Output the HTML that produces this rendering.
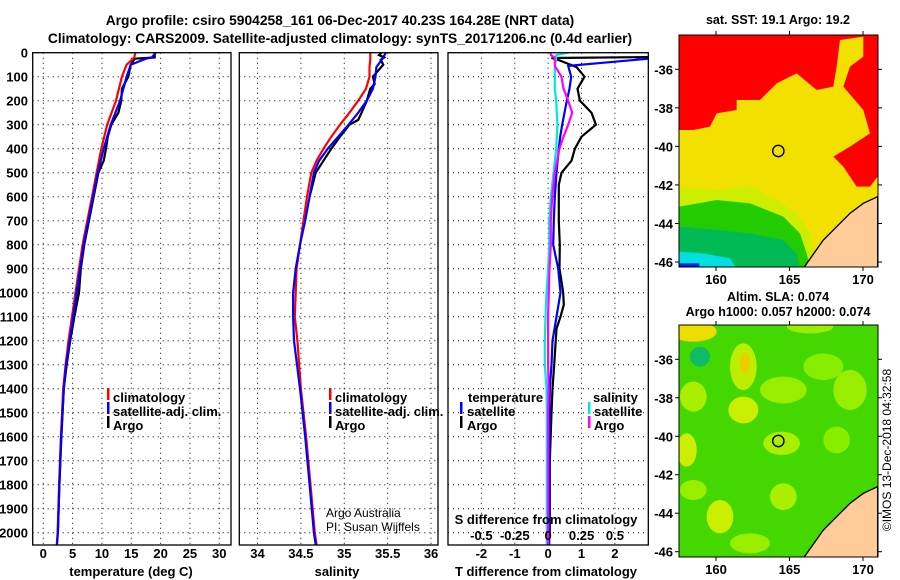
<!DOCTYPE html>
<html><head><meta charset="utf-8"><style>
body{margin:0;background:#fff;}
svg{display:block;font-family:"Liberation Sans",sans-serif;font-weight:bold;}
</style></head><body>
<svg id="fig" width="900" height="580" viewBox="0 0 900 580">
<rect width="900" height="580" fill="#fff"/>
<text x="340" y="25" font-size="13.8" text-anchor="middle">Argo profile: csiro 5904258_161 06-Dec-2017 40.23S 164.28E (NRT data)</text>
<text x="340" y="43" font-size="13.8" text-anchor="middle">Climatology: CARS2009. Satellite-adjusted climatology: synTS_20171206.nc (0.4d earlier)</text>
<g id="panels"></g>

<!-- SST map -->
<text x="778" y="24" font-size="12.5" text-anchor="middle">sat. SST: 19.1 Argo: 19.2</text>
<g>
<clipPath id="c1"><rect x="679" y="35" width="199" height="232"/></clipPath>
<g clip-path="url(#c1)">
<rect x="679" y="35" width="199" height="232" fill="#ff0000"/>
<g transform="translate(650,0) scale(0.33333)">
<polygon fill="#f2e000" points="88,390 130,390 180,380 200,340 260,330 260,300 330,300 380,250 440,220 500,270 550,260 560,200 570,120 640,110 640,170 600,200 580,260 640,330 660,400 600,440 550,470 580,500 620,560 660,560 683,530 683,805 88,805"/>
<polygon fill="#ccee00" points="88,560 200,570 300,560 380,600 440,640 480,700 500,805 88,805"/>
<polygon fill="#22cc00" points="88,620 200,600 300,610 400,650 450,700 470,760 480,805 88,805"/>
<polygon fill="#00bb55" points="88,680 200,690 300,700 400,720 440,760 450,805 88,805"/>
<polygon fill="#00e0e0" points="88,755 160,760 240,775 260,805 88,805"/>
<rect x="88" y="790" width="60" height="15" fill="#0022ee"/>
<polygon fill="#ffcc99" stroke="#000" stroke-width="4" points="460,805 520,720 570,670 600,640 640,610 683,590 683,805"/>
<circle cx="385" cy="453" r="17" fill="none" stroke="#000" stroke-width="4"/>
</g></g>
<rect x="679" y="35" width="199" height="232" fill="none" stroke="#000" stroke-width="1"/>
</g>

<!-- SLA map -->
<text x="778" y="301" font-size="12.5" text-anchor="middle">Altim. SLA: 0.074</text>
<text x="778" y="316" font-size="12.5" text-anchor="middle">Argo h1000: 0.057 h2000: 0.074</text>
<g>
<clipPath id="c2"><rect x="679" y="325" width="199" height="232"/></clipPath>
<g clip-path="url(#c2)">
<rect x="679" y="325" width="199" height="232" fill="#44d800"/>
<g transform="translate(650,290) scale(0.33333)">
<ellipse cx="130" cy="125" rx="70" ry="30" fill="#eedd00"/>
<ellipse cx="150" cy="200" rx="30" ry="30" fill="#11bb66"/>
<ellipse cx="280" cy="230" rx="40" ry="70" fill="#bbee00"/>
<ellipse cx="285" cy="220" rx="15" ry="30" fill="#eecc00"/>
<ellipse cx="130" cy="320" rx="40" ry="45" fill="#aaee00"/>
<ellipse cx="280" cy="360" rx="45" ry="40" fill="#ccee00"/>
<ellipse cx="400" cy="300" rx="70" ry="40" fill="#99ee00"/>
<ellipse cx="395" cy="460" rx="55" ry="35" fill="#aaee00"/>
<ellipse cx="110" cy="480" rx="30" ry="50" fill="#ccee00"/>
<ellipse cx="520" cy="230" rx="60" ry="40" fill="#88ee00"/>
<ellipse cx="600" cy="300" rx="50" ry="60" fill="#99ee00"/>
<ellipse cx="560" cy="450" rx="40" ry="40" fill="#88ee00"/>
<ellipse cx="210" cy="680" rx="40" ry="50" fill="#ccee00"/>
<ellipse cx="400" cy="620" rx="40" ry="40" fill="#aaee00"/>
<ellipse cx="130" cy="600" rx="40" ry="30" fill="#99ee00"/>
<ellipse cx="300" cy="760" rx="60" ry="30" fill="#99ee00"/>
<ellipse cx="480" cy="110" rx="70" ry="20" fill="#99ee00"/>
<ellipse cx="600" cy="700" rx="50" ry="40" fill="#88ee00"/>
<polygon fill="#ffcc99" stroke="#000" stroke-width="4" points="460,805 520,720 570,670 600,640 640,610 683,590 683,805"/>
<circle cx="385" cy="453" r="17" fill="none" stroke="#000" stroke-width="4"/>
</g></g>
<rect x="679" y="325" width="199" height="232" fill="none" stroke="#000" stroke-width="1"/>
</g>
<g id="mapaxes"></g>
<text transform="translate(891,450) rotate(-90)" font-size="12" font-weight="normal" text-anchor="middle">©IMOS 13-Dec-2018 04:32:58</text>
</svg>
<script>
// ---- data ----
const tDepth = [0,20,25,50,100,200,300,400,500,600,700,800,900,1000,1100,1200,1300,1400,1600,1800,2000,2050];
const tClim  = [15.7,15.5,15.3,14.2,13.4,12.4,10.9,9.9,9.1,8.3,7.5,6.7,6.1,5.5,4.9,4.3,3.8,3.4,3.0,2.7,2.45,2.3];
const tSat   = [19.2,18.5,17.5,14.9,14.2,13.1,11.5,10.3,9.3,8.5,7.7,6.9,6.3,5.7,5.1,4.5,3.9,3.5,3.05,2.75,2.5,2.35];
const argoTDepth = [0,20,25,50,100,150,200,250,300,350,400,450,500,600,700,800,900,1000,1100,1200,1300,1400,1600,1800,2000];
const argoT  = [19.0,19.0,15.6,14.9,14.5,13.4,13.3,12.8,11.6,11.0,10.7,10.3,9.4,8.6,7.8,7.0,6.4,6.1,5.3,4.6,4.0,3.5,3.1,2.75,2.5];
const sDepth = [0,30,60,100,150,200,250,300,350,400,450,500,600,700,800,900,1000,1100,1200,1400,1600,1800,2000,2050];
const sClim  = [35.30,35.30,35.29,35.29,35.25,35.16,35.06,34.95,34.85,34.76,34.68,34.62,34.57,34.53,34.49,34.45,34.44,34.43,34.46,34.50,34.56,34.61,34.66,34.68];
const sSat   = [35.48,35.43,35.37,35.36,35.33,35.26,35.16,35.05,34.93,34.81,34.71,34.65,34.60,34.55,34.49,34.44,34.41,34.41,34.42,34.49,34.55,34.60,34.65,34.67];
const argoSDepth = [0,10,20,30,50,100,130,150,200,250,280,300,350,400,450,500,600];
const argoS  = [35.43,35.40,35.46,35.42,35.45,35.33,35.35,35.30,35.26,35.20,35.16,35.06,34.95,34.85,34.76,34.67,34.60];
const dDepth = [0,10,20,55,100,150,200,250,300,350,400,500,600,700,800,900,1000,1100,1200,1300,1400,1500,1700,2000,2050];
const dTsat  = [3.5,3.5,3.4,0.6,0.69,0.64,0.56,0.49,0.42,0.36,0.32,0.25,0.2,0.17,0.15,0.30,0.37,0.25,0.13,0.1,0.05,0.04,0.03,0.03,0.03];
const dDepthA = [0,18,22,30,60,100,150,200,250,300,350,400,450,500,550,700,800,900,1000,1050,1100,1150,1300,1400,1500,1700,2000];
const dTargo = [3.3,3.3,0.1,0.3,0.85,1.09,0.88,0.95,1.30,1.43,1.0,0.80,0.70,0.40,0.32,0.32,0.35,0.34,0.45,0.47,0.37,0.25,0.18,0.13,0.1,0.05,0.05];
const dSsat  = [0.15,0.06,0.06,0.05,0.05,0.05,0.06,0.065,0.07,0.065,0.06,0.04,0.02,0.008,0.008,0.0,-0.012,-0.02,-0.025,-0.025,-0.012,-0.01,-0.01,-0.01,-0.01];
const dSargo = [0.02,0.02,0.05,0.05,0.10,0.115,0.15,0.18,0.15,0.115,0.085,0.05,0.03,0.02,0.02,0.01,0.005,0.0,0.0,0.0,0.003,0.0,0.0,0.0,0.0];
const depthTicks = [0,100,200,300,400,500,600,700,800,900,1000,1100,1200,1300,1400,1500,1600,1700,1800,1900,2000];
const tTicks = [0,5,10,15,20,25,30];
const sTicks = [34,34.5,35,35.5,36];
const dTTicks = [-2,-1,0,1,2];
const dSTicks = [-0.5,-0.25,0,0.25,0.5];

const NS='http://www.w3.org/2000/svg';
const root=document.getElementById('panels');
function el(tag,attrs,parent){const e=document.createElementNS(NS,tag);for(const k in attrs)e.setAttribute(k,attrs[k]);(parent||root).appendChild(e);return e;}
const Y0=52.7, Y1=545, DMAX=(545-52.7)/0.24;
const yS=d=>Y0+(d/DMAX)*(Y1-Y0);
function mkX(x0,x1,v0,v1){return v=>x0+(v-v0)/(v1-v0)*(x1-x0);}
const P=[
 {x0:32.7,x1:231,f:mkX(32.7,231,-1.8,32.0),name:'temperature-panel'},
 {x0:239.3,x1:438,f:mkX(239.3,438,33.79,36.08),name:'salinity-panel'},
 {x0:448,x1:648.3,f:mkX(448,648.3,-3,3),name:'difference-panel'}];
const fS3=v=>P[2].f(v*4);

function frame(p,ticks,fx,labels){
  const g=el('g',{});
  
  
  ticks.forEach(t=>{const x=fx(t);const l=el('line',{x1:x,x2:x,y1:Y0,y2:Y1,stroke:'#000','stroke-width':1,'stroke-dasharray':'1,4'},g);
    });
  depthTicks.forEach(d=>{const y=yS(d);const l=el('line',{x1:p.x0,x2:p.x1,y1:y,y2:y,stroke:'#000','stroke-width':1,'stroke-dasharray':'1,4'},g);
    });
  if(labels){ticks.forEach(t=>{const tx=el('text',{x:fx(t),y:558,'font-size':13,'text-anchor':'middle'},g);tx.textContent=String(t);
    });}
  return g;
}
function line(g,xs,ds,fx,col,name){
  const pts=xs.map((v,i)=>{let x=fx(v);return x.toFixed(1)+','+yS(ds[i]).toFixed(1);}).join(' ');
  const pl=el('polyline',{points:pts,fill:'none',stroke:col,'stroke-width':2.2},g);
  
  
}
function box(p){const r=el('rect',{x:p.x0,y:Y0,width:p.x1-p.x0,height:Y1-Y0,fill:'none',stroke:'#000','stroke-width':1.3});
  }
function txt(x,y,s,name,opts){const t=el('text',Object.assign({x:x,y:y,'font-size':13},opts||{}));t.textContent=s;
  return t;}
function mark(x,y,col){const r=el('rect',{x:x,y:y-10,width:2.5,height:12,fill:col});}

const defs=el('defs',{});
P.forEach((p,i)=>{const c=el('clipPath',{id:'pc'+i},defs);el('rect',{x:p.x0,y:Y0,width:p.x1-p.x0,height:Y1-Y0},c);});

// panel 1
const g1=frame(P[0],tTicks,P[0].f,true);
const c1=el('g',{'clip-path':'url(#pc0)'},g1);
line(c1,argoT,argoTDepth,P[0].f,'#000','argo-temperature-line');
line(c1,tClim,tDepth,P[0].f,'#ff0000','climatology-temperature-line');
line(c1,tSat,tDepth,P[0].f,'#0000ff','satellite-temperature-line');
box(P[0]);
depthTicks.forEach(d=>txt(28,yS(d)+5,String(d),'y-tick-label',{'text-anchor':'end'}));
txt(131,576,'temperature (deg C)','x-axis-title-temperature',{'text-anchor':'middle'});
mark(107,398,'#ff0000');txt(113,402,'climatology','legend-climatology');
mark(107,412,'#0000ff');txt(113,416,'satellite-adj. clim.','legend-satellite');
mark(107,426,'#000');txt(113,430,'Argo','legend-argo');

// panel 2
const g2=frame(P[1],sTicks,P[1].f,true);
const c2=el('g',{'clip-path':'url(#pc1)'},g2);
line(c2,argoS,argoSDepth,P[1].f,'#000','argo-salinity-line');
line(c2,sClim,sDepth,P[1].f,'#ff0000','climatology-salinity-line');
line(c2,sSat,sDepth,P[1].f,'#0000ff','satellite-salinity-line');
box(P[1]);
txt(337,576,'salinity','x-axis-title-salinity',{'text-anchor':'middle'});
mark(329,398,'#ff0000');txt(335,402,'climatology','legend-climatology-s');
mark(329,412,'#0000ff');txt(335,416,'satellite-adj. clim.','legend-satellite-s');
mark(329,426,'#000');txt(335,430,'Argo','legend-argo-s');
txt(326,517,'Argo Australia','credit-line-1',{'font-weight':'normal','font-size':12});
txt(326,531,'PI: Susan Wijffels','credit-line-2',{'font-weight':'normal','font-size':12});

// panel 3
const g3=frame(P[2],dTTicks,P[2].f,true);
const c3=el('g',{'clip-path':'url(#pc2)'},g3);
line(c3,dTargo,dDepthA,P[2].f,'#000','argo-t-difference-line');
line(c3,dTsat,dDepth,P[2].f,'#0000ff','satellite-t-difference-line');
line(c3,dSsat,dDepth,fS3,'#00e5e5','satellite-s-difference-line');
line(c3,dSargo,dDepth,fS3,'#ff00ff','argo-s-difference-line');
box(P[2]);
dSTicks.forEach(t=>txt(fS3(t),540,String(t),'s-tick-label',{'text-anchor':'middle'}));
txt(546,524,'S difference from climatology','s-axis-title',{'text-anchor':'middle'});
txt(546,576,'T difference from climatology','t-axis-title',{'text-anchor':'middle'});
txt(468,402,'temperature','legend-temperature-header');
mark(460,412,'#0000ff');txt(467,416,'satellite','legend-t-satellite');
mark(460,426,'#000');txt(467,430,'Argo','legend-t-argo');
txt(593,402,'salinity','legend-salinity-header');
mark(588,412,'#00e5e5');txt(594,416,'satellite','legend-s-satellite');
mark(588,426,'#ff00ff');txt(594,430,'Argo','legend-s-argo');

// map axes
const mg=document.getElementById('mapaxes');
const lonTicks=[160,165,170];
const latTicks=[-36,-38,-40,-42,-44,-46];
const lonX=l=>716+(l-160)*14.7;
[[69.3,262],[359.3,551.7]].forEach((m,k)=>{
  const top=k?325:35, bot=k?557:267;
  lonTicks.forEach(l=>{const x=lonX(l);
    el('line',{x1:x,x2:x,y1:top-4,y2:top,stroke:'#000'},mg);el('line',{x1:x,x2:x,y1:bot,y2:bot+4,stroke:'#000'},mg);
    const t=el('text',{x:x,y:bot+17,'font-size':13,'text-anchor':'middle'},mg);t.textContent=String(l);
    });
  latTicks.forEach(a=>{const y=m[0]+(a+36)/(-10)*(m[1]-m[0]);
    el('line',{x1:675,x2:679,y1:y,y2:y,stroke:'#000'},mg);el('line',{x1:878,x2:882,y1:y,y2:y,stroke:'#000'},mg);
    const t=el('text',{x:673,y:y+5,'font-size':13,'text-anchor':'end'},mg);t.textContent=String(a);
    });
});
</script>
</body></html>
